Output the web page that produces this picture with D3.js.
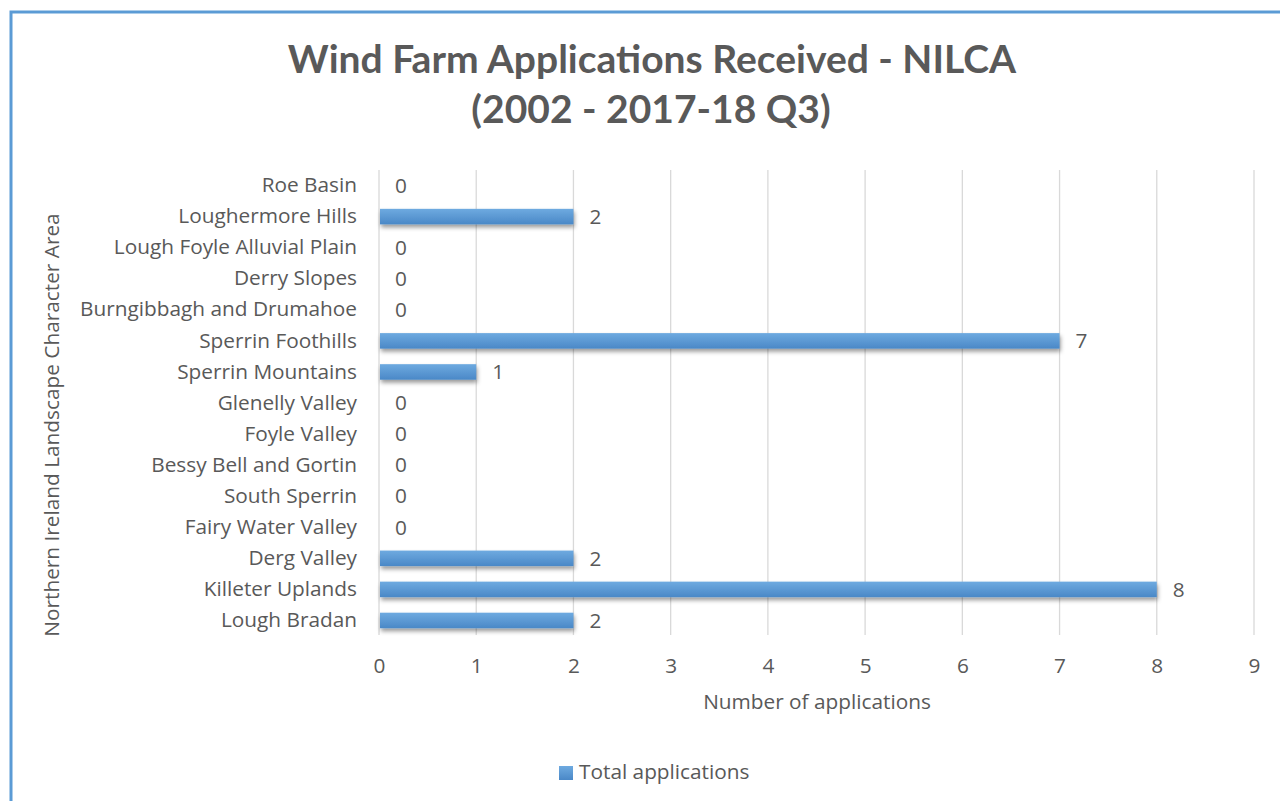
<!DOCTYPE html>
<html>
<head>
<meta charset="utf-8">
<script src="https://d3js.org/d3.v7.min.js"></script>
<style>
body { margin: 0; background: #fff; }
text { font-family: "Open Sans", Lato, sans-serif; fill: #595959; }
.title { font-family: Lato, "Open Sans", sans-serif; }
</style>
</head>
<body>
<div id="chart"></div>
<script>
// data
var categories = ["Roe Basin", "Loughermore Hills", "Lough Foyle Alluvial Plain", "Derry Slopes",
  "Burngibbagh and Drumahoe", "Sperrin Foothills", "Sperrin Mountains", "Glenelly Valley",
  "Foyle Valley", "Bessy Bell and Gortin", "South Sperrin", "Fairy Water Valley",
  "Derg Valley", "Killeter Uplands", "Lough Bradan"];
var totals = [0, 2, 0, 0, 0, 7, 1, 0, 0, 0, 0, 0, 2, 8, 2];
var xTicks = [0, 1, 2, 3, 4, 5, 6, 7, 8, 9];
var seriesName = "Total applications";

var W = 1280, H = 801;
var fs = "20.8px";
var svg = d3.select("#chart").append("svg").attr("width", W).attr("height", H);

var defs = svg.append("defs");
var grad = defs.append("linearGradient").attr("id", "barGrad")
  .attr("x1", 0).attr("y1", 0).attr("x2", 0).attr("y2", 1);
grad.append("stop").attr("offset", "0%").attr("stop-color", "#6eaae0");
grad.append("stop").attr("offset", "100%").attr("stop-color", "#4a88c7");
var shadow = defs.append("filter").attr("id", "shadow")
  .attr("x", "-5%").attr("y", "-50%").attr("width", "110%").attr("height", "220%");
shadow.append("feDropShadow").attr("dx", 1).attr("dy", 3).attr("stdDeviation", 2)
  .attr("flood-color", "#000").attr("flood-opacity", 0.4);

// outer border (only left and top visible)
svg.append("rect").attr("x", 11).attr("y", 12).attr("width", W + 20).attr("height", H + 20)
  .attr("fill", "none").attr("stroke", "#5b9bd5").attr("stroke-width", 3);

// title
var title = svg.append("text").attr("class", "title").attr("text-anchor", "middle")
  .style("font-size", "39px").style("font-weight", "bold");
title.append("tspan").attr("x", 652).attr("y", 73).text("Wind Farm Applications Received - NILCA");
title.append("tspan").attr("x", 651).attr("y", 123).text("(2002 - 2017-18 Q3)");

var x = d3.scaleLinear().domain([0, 9]).range([379, 1254]);
var y = d3.scaleBand().domain(categories).range([170, 636]).paddingInner(0.5).paddingOuter(0.25);

// gridlines
svg.append("g").selectAll("line").data(xTicks).join("line")
  .attr("x1", function(d){ return x(d); }).attr("x2", function(d){ return x(d); })
  .attr("y1", 170).attr("y2", 635)
  .attr("stroke", "#d9d9d9").attr("stroke-width", 1.3);

// x axis labels
var xAxis = svg.append("g").attr("transform", "translate(0,635)")
  .call(d3.axisBottom(x).tickValues(xTicks).tickSize(0).tickPadding(23).tickFormat(d3.format("d")));
xAxis.select(".domain").remove();
xAxis.selectAll("text").style("font-size", fs).attr("fill", "#595959");

// y axis labels
var yAxis = svg.append("g").attr("transform", "translate(379,0)")
  .call(d3.axisLeft(y).tickSize(0).tickPadding(22));
yAxis.select(".domain").remove();
yAxis.selectAll("text").style("font-size", fs).attr("fill", "#595959");

// bars (zero values drawn with no width)
svg.append("g").selectAll("rect").data(categories).join("rect")
  .attr("x", x(0) + 1)
  .attr("y", function(c){ return y(c); })
  .attr("height", y.bandwidth())
  .attr("width", function(c, i){ return Math.max(0, x(totals[i]) - x(0) - 1); })
  .attr("fill", "url(#barGrad)")
  .attr("filter", "url(#shadow)")
  .style("display", function(c, i){ return totals[i] > 0 ? null : "none"; });

// value labels
svg.append("g").selectAll("text").data(categories).join("text")
  .attr("x", function(c, i){ return x(totals[i]) + 16; })
  .attr("y", function(c){ return y(c) + y.bandwidth() / 2; })
  .attr("dy", "0.35em")
  .style("font-size", fs)
  .text(function(c, i){ return totals[i]; });

// axis titles
svg.append("text").attr("x", 817).attr("y", 709).attr("text-anchor", "middle")
  .style("font-size", fs).text("Number of applications");
svg.append("text").attr("transform", "translate(59,425) rotate(-90)").attr("text-anchor", "middle")
  .style("font-size", fs).text("Northern Ireland Landscape Character Area");

// legend
svg.append("rect").attr("x", 559).attr("y", 766).attr("width", 14).attr("height", 14)
  .attr("fill", "url(#barGrad)");
svg.append("text").attr("x", 579).attr("y", 779).style("font-size", fs).text(seriesName);
</script>
</body>
</html>
